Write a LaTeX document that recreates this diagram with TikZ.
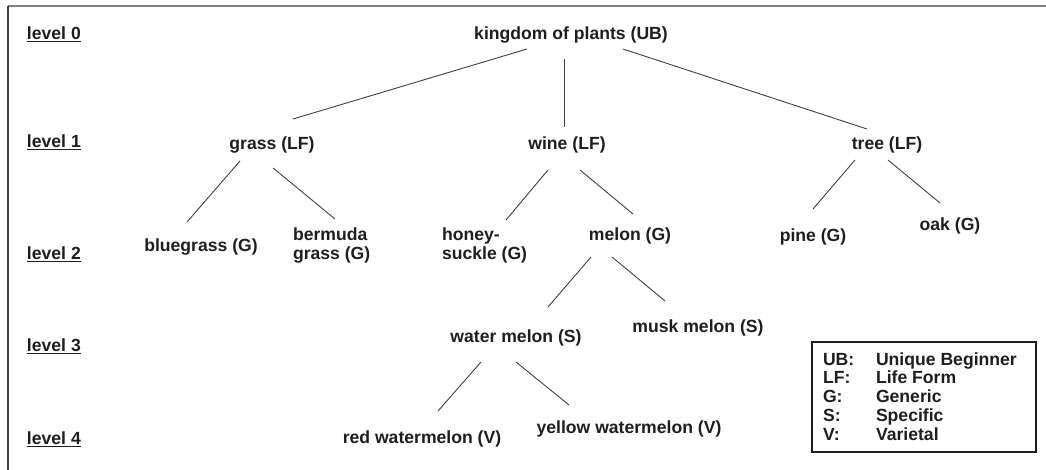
\documentclass[tikz,border=0pt]{standalone}
\usepackage{fontspec}
\setmainfont{Liberation Sans}
\usepackage{array}
\definecolor{ink}{HTML}{1E1E1E}
\definecolor{edge}{HTML}{404040}
\begin{document}
\begin{tikzpicture}[x=1pt,y=-1pt,
  every node/.style={inner sep=0pt, outer sep=0pt, text=ink,
    font=\fontsize{17.6}{19}\selectfont\bfseries},
  term/.style={anchor=center, yshift=-1.5pt},
  multi/.style={anchor=west, align=left, yshift=-1.5pt},
  lvl/.style={anchor=west, yshift=-1pt},
  branch/.style={draw=edge, line width=0.9pt},
  frame/.style={line width=1.6pt},
  legendbox/.style={draw=ink, line width=1.4pt, minimum width=224pt, minimum height=110pt, anchor=north west}
]
\useasboundingbox (0,0) rectangle (1046,470);

% outer frame (top and left edges)
\draw[frame, draw=gray] (8,6) -- (1046,6);
\draw[frame, draw=ink!85] (8,6) -- (8,470);

% level labels
\node[lvl] (l0) at (27,33)  {\underline{level 0}};
\node[lvl] (l1) at (27,141) {\underline{level 1}};
\node[lvl] (l2) at (27,253) {\underline{level 2}};
\node[lvl] (l3) at (27,345) {\underline{level 3}};
\node[lvl] (l4) at (27,438) {\underline{level 4}};

% taxonomy terms
\node[term] (k)      at (571,33)  {kingdom of plants (UB)};
\node[term] (grass)  at (272,143) {grass (LF)};
\node[term] (wine)   at (567,143) {wine (LF)};
\node[term] (tree)   at (887,143) {tree (LF)};
\node[term] (blue)   at (201,245) {bluegrass (G)};
\node[multi] (berm)  at (293,244) {bermuda\\grass (G)};
\node[multi] (honey) at (442,244) {honey-\\suckle (G)};
\node[term] (melon)  at (630,234) {melon (G)};
\node[term] (pine)   at (813,235) {pine (G)};
\node[term] (oak)    at (950,224) {oak (G)};
\node[term] (water)  at (516,336) {water melon (S)};
\node[term] (musk)   at (698,326) {musk melon (S)};
\node[term] (red)    at (422,437) {red watermelon (V)};
\node[term] (yellow) at (629,427) {yellow watermelon (V)};

% branches (offsets taken from each node's centre or west anchor)
\draw[branch] ([shift={(-44,14.5)}]k.center) -- ([shift={(21,-25.5)}]grass.center);
\draw[branch] ([shift={(-7,24.5)}]k.center) -- ([shift={(-3,-17.5)}]wine.center);
\draw[branch] ([shift={(52,14.5)}]k.center) -- ([shift={(-20,-15.5)}]tree.center);
\draw[branch] ([shift={(-32,16.5)}]grass.center) -- ([shift={(-14,-24.5)}]blue.center);
\draw[branch] ([shift={(1,23.5)}]grass.center) -- ([shift={(42,-26.5)}]berm.west);
\draw[branch] ([shift={(-19,25.5)}]wine.center) -- ([shift={(64,-25.5)}]honey.west);
\draw[branch] ([shift={(13,25.5)}]wine.center) -- ([shift={(3,-21.5)}]melon.center);
\draw[branch] ([shift={(-32,15.5)}]tree.center) -- ([shift={(0,-27.5)}]pine.center);
\draw[branch] ([shift={(1,15.5)}]tree.center) -- ([shift={(-10,-22.5)}]oak.center);
\draw[branch] ([shift={(-39,21.5)}]melon.center) -- ([shift={(32,-30.5)}]water.center);
\draw[branch] ([shift={(-18,21.5)}]melon.center) -- ([shift={(-33,-26.5)}]musk.center);
\draw[branch] ([shift={(-35,24.5)}]water.center) -- ([shift={(16,-27.5)}]red.center);
\draw[branch] ([shift={(0,24.5)}]water.center) -- ([shift={(-60,-23.5)}]yellow.center);

% legend
\node[legendbox] (legend) at (812,342) {};
\node[anchor=west, yshift=-2pt, font=\fontsize{17.6}{18.8}\selectfont\bfseries] (legendtext) at ([shift={(11,0)}]legend.west)
  {\begin{tabular}{@{}p{53pt}@{}l@{}}
    UB: & Unique Beginner\\
    LF: & Life Form\\
    G:  & Generic\\
    S:  & Specific\\
    V:  & Varietal
  \end{tabular}};
\end{tikzpicture}
\end{document}
